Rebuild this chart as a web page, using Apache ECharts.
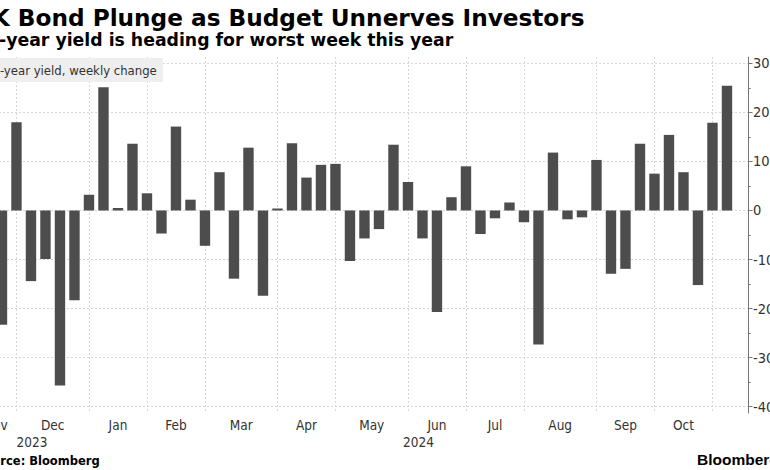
<!DOCTYPE html>
<html>
<head>
<meta charset="utf-8">
<script src="https://cdn.jsdelivr.net/npm/echarts@6/dist/echarts.min.js"></script>
<style>
html, body { margin: 0; padding: 0; background: #ffffff; }
#chart { width: 770px; height: 470px; }
</style>
</head>
<body>
<div id="chart"></div>
<script>
// ---------------- data ----------------
const TITLE = 'UK Bond Plunge as Budget Unnerves Investors';
const SUBTITLE = '10-year yield is heading for worst week this year';
const SERIES_NAME = '10-year yield, weekly change';
const SOURCE = 'Source: Bloomberg';
const BRAND = 'Bloomberg';

const weekDates = [
  '2023-11-17', '2023-11-24', '2023-12-01', '2023-12-08', '2023-12-15', '2023-12-22', '2023-12-29',
  '2024-01-05', '2024-01-12', '2024-01-19', '2024-01-26',
  '2024-02-02', '2024-02-09', '2024-02-16', '2024-02-23',
  '2024-03-01', '2024-03-08', '2024-03-15', '2024-03-22', '2024-03-29',
  '2024-04-05', '2024-04-12', '2024-04-19', '2024-04-26',
  '2024-05-03', '2024-05-10', '2024-05-17', '2024-05-24', '2024-05-31',
  '2024-06-07', '2024-06-14', '2024-06-21', '2024-06-28',
  '2024-07-05', '2024-07-12', '2024-07-19', '2024-07-26',
  '2024-08-02', '2024-08-09', '2024-08-16', '2024-08-23', '2024-08-30',
  '2024-09-06', '2024-09-13', '2024-09-20', '2024-09-27',
  '2024-10-04', '2024-10-11', '2024-10-18', '2024-10-25',
  '2024-11-01'
];

// weekly change of the 10-year gilt yield, basis points
const weeklyChange = [
  -23.3, 18.0, -14.4, -9.9, -35.7, -18.3, 3.2,
  25.1, 0.5, 13.6, 3.5,
  -4.7, 17.1, 2.2, -7.2,
  7.8, -13.9, 12.8, -17.4, 0.4,
  13.7, 6.7, 9.3, 9.5,
  -10.3, -5.7, -3.8, 13.4, 5.8,
  -5.7, -20.7, 2.7, 9.0,
  -4.8, -1.6, 1.6, -2.4,
  -27.3, 11.8, -1.8, -1.4, 10.3,
  -12.9, -11.9, 13.6, 7.5,
  15.4, 7.8, -15.2, 17.9,
  25.4
];

const yTicks = [-40, -30, -20, -10, 0, 10, 20, 30];
const yMinorTicks = [-35, -25, -15, -5, 5, 15, 25];
const monthNames = ['Jan', 'Feb', 'Mar', 'Apr', 'May', 'Jun', 'Jul', 'Aug', 'Sep', 'Oct', 'Nov', 'Dec'];

// ---------------- layout / style ----------------
const X_MIN = -1.86, X_MAX = 51.45;     // visible window of the week axis
const Y_MIN = -41.28, Y_MAX = 31.28;
const FONT_REG = '"DejaVu Sans Condensed", "Liberation Sans", sans-serif';
const FONT_BOLD = '"DejaVu Sans", sans-serif';
const GRID_LINE = { color: '#d6d6d6', type: [2, 2], width: 1 };
const AXIS_COLOR = '#777777';
const TEXT_COLOR = '#333333';

// ---------------- derived axis helpers ----------------
const monthOf = d => +d.slice(5, 7) - 1;
const yearOf = d => d.slice(0, 4);

// index of last week of each month (gridlines)
const monthEnds = [];
for (let i = 0; i < weekDates.length - 1; i++) {
  if (monthOf(weekDates[i]) !== monthOf(weekDates[i + 1])) monthEnds.push(i);
}
// month labels centred between consecutive boundaries
const monthLabelPos = [], monthLabelTxt = [];
const bounds = [X_MIN].concat(monthEnds);
for (let k = 0; k < bounds.length - 1; k++) {
  monthLabelPos.push((bounds[k] + bounds[k + 1]) / 2);
  monthLabelTxt.push(monthNames[monthOf(weekDates[bounds[k + 1]])]);
}
// year labels
const yearEnds = [];
for (let i = 0; i < weekDates.length - 1; i++) {
  if (yearOf(weekDates[i]) !== yearOf(weekDates[i + 1])) yearEnds.push(i);
}
const yBounds = [X_MIN].concat(yearEnds).concat([X_MAX]);
const yearLabelPos = [], yearLabelTxt = [];
for (let k = 0; k < yBounds.length - 1; k++) {
  yearLabelPos.push((yBounds[k] + yBounds[k + 1]) / 2);
  const idx = k < yearEnds.length ? yearEnds[k] : weekDates.length - 1;
  yearLabelTxt.push(yearOf(weekDates[idx]));
}
function lookup(posArr, txtArr, v) {
  let best = 0, bd = Infinity;
  posArr.forEach((p, i) => { const d = Math.abs(p - v); if (d < bd) { bd = d; best = i; } });
  return txtArr[best];
}

const chart = echarts.init(document.getElementById('chart'), null, { renderer: 'svg', width: 770, height: 470 });

chart.setOption({
  animation: false,
  backgroundColor: '#ffffff',
  grid: { left: -25, right: 22, top: 57, bottom: 57, containLabel: false, outerBoundsMode: 'none' },
  xAxis: [
    {
      type: 'value', min: X_MIN, max: X_MAX, position: 'bottom',
      axisLine: { show: false, onZero: false },
      axisTick: { show: false, customValues: monthEnds },
      splitLine: { show: true, lineStyle: GRID_LINE },
      axisLabel: {
        customValues: monthLabelPos,
        formatter: v => lookup(monthLabelPos, monthLabelTxt, v),
        fontFamily: FONT_REG, fontSize: 13.5, color: TEXT_COLOR, margin: 5
      }
    },
    {
      type: 'value', min: X_MIN, max: X_MAX, position: 'bottom', offset: 17,
      axisLine: { show: false, onZero: false },
      axisTick: { show: false },
      splitLine: { show: false },
      axisLabel: {
        customValues: yearLabelPos,
        formatter: v => lookup(yearLabelPos, yearLabelTxt, v),
        fontFamily: FONT_REG, fontSize: 13.5, color: TEXT_COLOR, margin: 5
      }
    }
  ],
  yAxis: [
    {
      type: 'value', position: 'right', min: Y_MIN, max: Y_MAX,
      axisLine: { show: true, onZero: false, lineStyle: { color: AXIS_COLOR, width: 1 } },
      axisTick: { show: true, length: 4.5, customValues: yTicks, lineStyle: { color: AXIS_COLOR } },
      axisLabel: { customValues: yTicks, fontFamily: FONT_REG, fontSize: 14.5, color: TEXT_COLOR, margin: 5 },
      splitLine: { show: true, lineStyle: GRID_LINE }
    },
    {
      type: 'value', position: 'right', min: Y_MIN, max: Y_MAX,
      axisLine: { show: false, onZero: false },
      axisTick: { show: true, length: 2.7, customValues: yMinorTicks, lineStyle: { color: AXIS_COLOR } },
      axisLabel: { show: false },
      splitLine: { show: false }
    }
  ],
  series: [
    {
      name: SERIES_NAME,
      type: 'bar',
      xAxisIndex: 0, yAxisIndex: 0,
      data: weeklyChange.map((v, i) => [i, v]),
      barWidth: 10.4,
      itemStyle: { color: '#4d4d4d' },
      silent: true
    }
  ],
  graphic: [
    { type: 'text', x: -27, y: 17, silent: true,
      style: { text: TITLE, font: 'bold 23.2px ' + FONT_BOLD, fill: '#000000', align: 'left', verticalAlign: 'middle' } },
    { type: 'text', x: -25, y: 40, silent: true,
      style: { text: SUBTITLE, font: 'bold 17.3px ' + FONT_BOLD, fill: '#000000', align: 'left', verticalAlign: 'middle' } },
    { type: 'text', x: -21, y: 70, silent: true, z: 10,
      style: { text: SERIES_NAME, font: '13px ' + FONT_REG, fill: TEXT_COLOR, align: 'left', verticalAlign: 'middle',
               backgroundColor: '#eeeeee', padding: [5, 6, 5, 6], lineHeight: 14 } },
    { type: 'text', x: -24, y: 461, silent: true,
      style: { text: SOURCE, font: 'bold 11.5px ' + FONT_BOLD, fill: '#000000', align: 'left', verticalAlign: 'middle' } },
    { type: 'text', x: 697, y: 459, silent: true,
      style: { text: BRAND, font: 'bold 15.5px "Liberation Sans", sans-serif', fill: '#000000', align: 'left', verticalAlign: 'middle' } }
  ]
});
</script>
</body>
</html>
